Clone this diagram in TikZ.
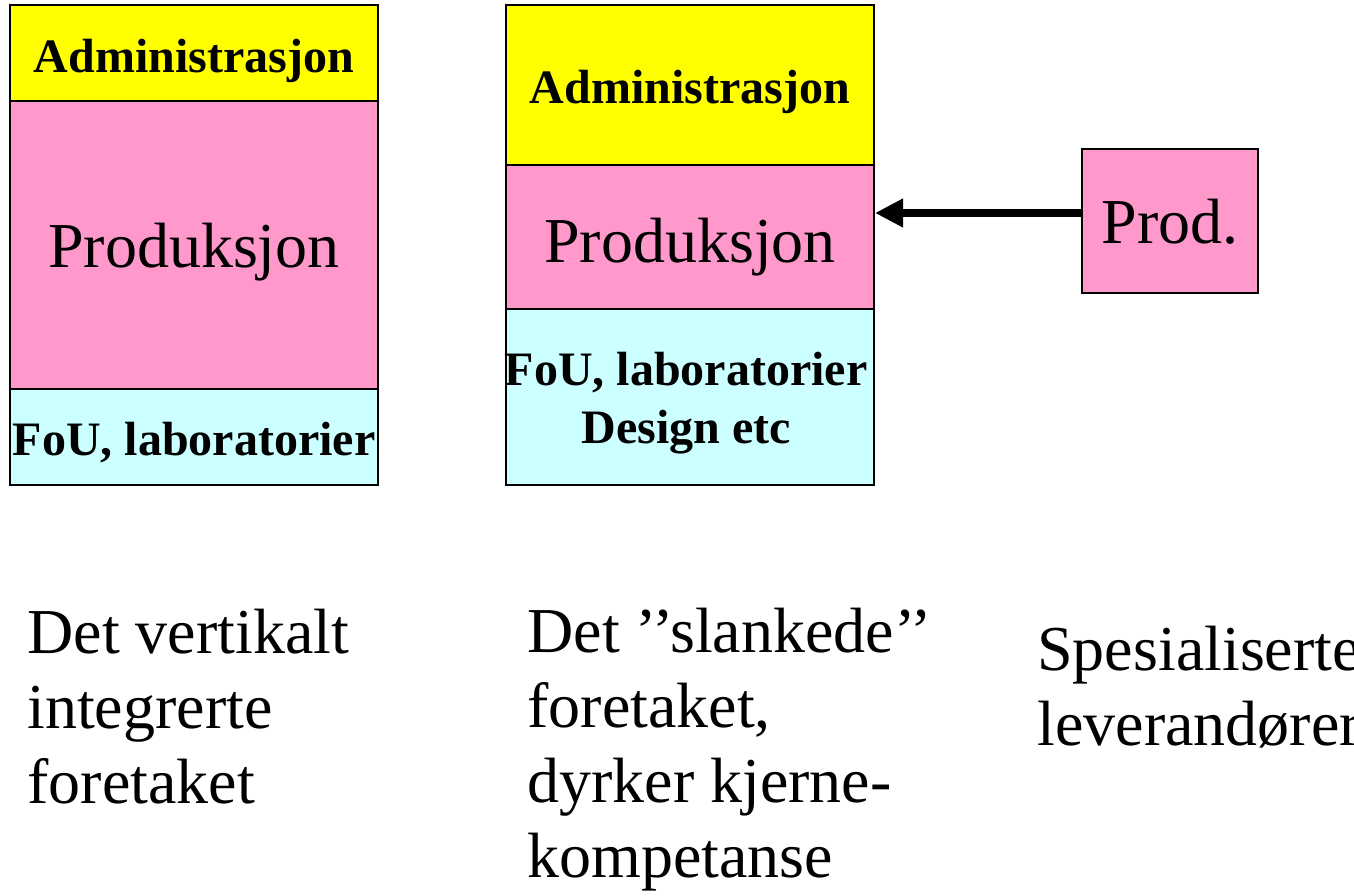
\documentclass[tikz,border=0pt]{standalone}
\usepackage{fontspec}
\setmainfont{Liberation Serif}
\usetikzlibrary{arrows.meta}
\definecolor{admyellow}{HTML}{FFFF00}
\definecolor{prodpink}{HTML}{FF99CC}
\definecolor{foucyan}{HTML}{CCFFFF}

\begin{document}
\begin{tikzpicture}[x=0.5pt,y=-0.5pt,
	boxnode/.style={rectangle, draw=black, line width=1pt, inner sep=0pt},
	boldtext/.style={font=\fontsize{24}{29}\selectfont\bfseries, inner sep=0pt},
	bigtext/.style={font=\fontsize{32}{37.5}\selectfont, inner sep=0pt},
	]
	\useasboundingbox (0,0) rectangle (1354,895);
	\clip (0,0) rectangle (1354,895);
	%Boxes
	\node[boxnode, fill=admyellow, minimum width=184pt, minimum height=48pt]  (adm1)  at (194,53)   {};
	\node[boxnode, fill=prodpink,  minimum width=184pt, minimum height=144pt] (prod1) at (194,245)  {};
	\node[boxnode, fill=foucyan,   minimum width=184pt, minimum height=48pt]  (fou1)  at (194,437)  {};
	\node[boxnode, fill=admyellow, minimum width=184pt, minimum height=80pt]  (adm2)  at (690,85)   {};
	\node[boxnode, fill=prodpink,  minimum width=184pt, minimum height=72pt]  (prod2) at (690,237)  {};
	\node[boxnode, fill=foucyan,   minimum width=184pt, minimum height=88pt]  (fou2)  at (690,397)  {};
	\node[boxnode, fill=prodpink,  minimum width=88pt,  minimum height=72pt]  (prodr) at (1170,221) {};
	%Texts
	\node[boldtext, anchor=base] (tadm1)  at (194,72)  {Administrasjon};
	\node[bigtext,  anchor=base] (tprod1) at (194,267) {Produksjon};
	\node[boldtext, anchor=base] (tfou1)  at (194,455) {FoU, laboratorier};
	\node[boldtext, anchor=base] (tadm2)  at (690,103) {Administrasjon};
	\node[bigtext,  anchor=base] (tprod2) at (690,262) {Produksjon};
	\node[boldtext, anchor=base, align=center] (tfou2) at (686,443) {FoU, laboratorier\\Design etc};
	\node[bigtext,  anchor=base] (tprodr) at (1170,243) {Prod.};
	\node[bigtext, anchor=base west, align=left] (cap1) at (27,803)   {Det vertikalt\\integrerte\\foretaket};
	\node[bigtext, anchor=base west, align=left] (cap2) at (527,877)  {Det ’’slankede’’\\foretaket,\\dyrker kjerne-\\kompetanse};
	\node[bigtext, anchor=base west, align=left] (cap3) at (1037,745) {Spesialiserte\\leverandører};
	%Arrow
	\draw[line width=4pt, -{Triangle[length=14pt, width=13.5pt]}] ([yshift=4pt]prodr.west) -- ([yshift=4pt]prodr.west -| prod2.east);
\end{tikzpicture}
\end{document}
